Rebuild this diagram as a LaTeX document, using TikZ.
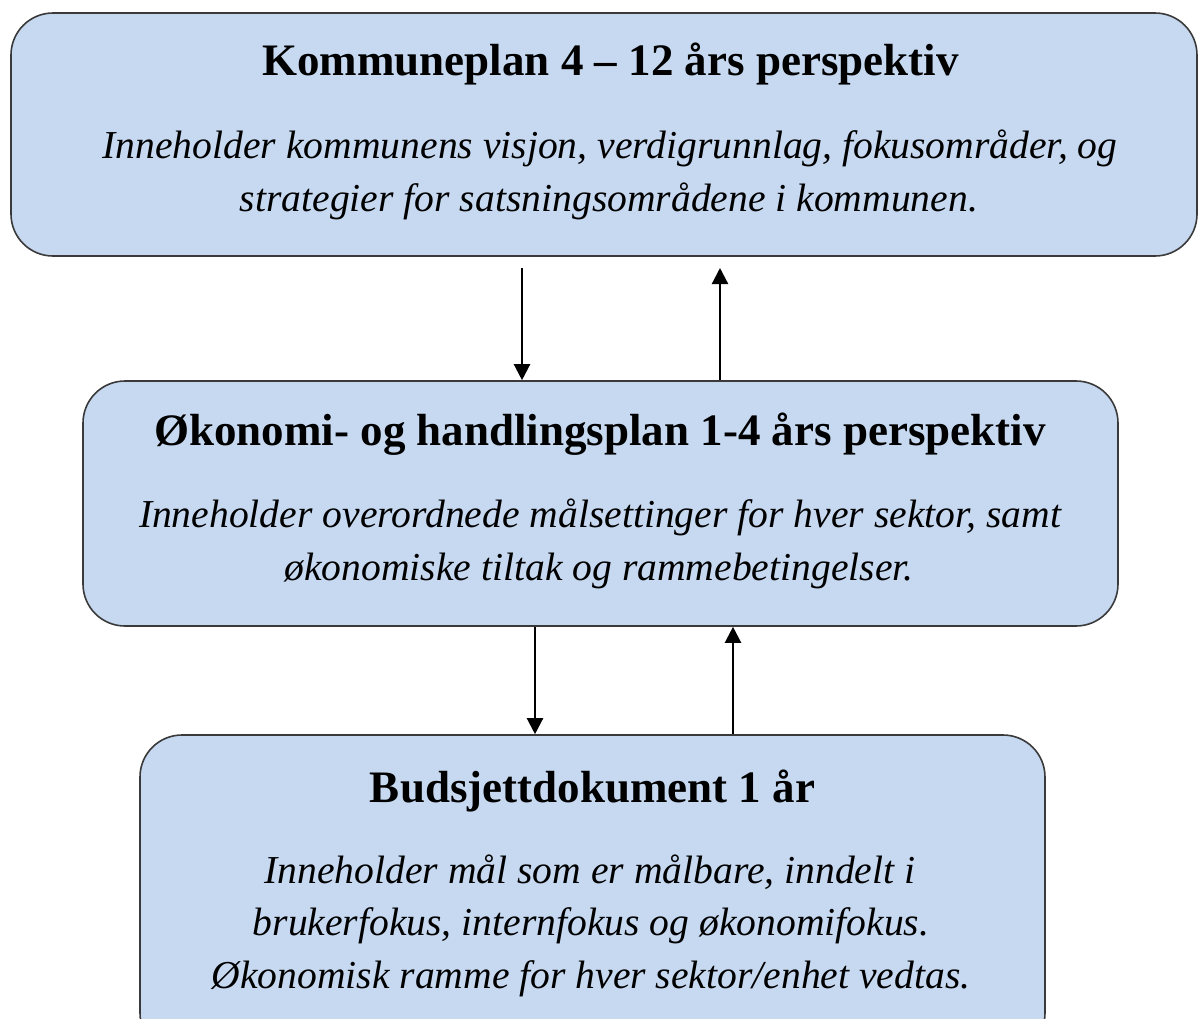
\documentclass[tikz,border=0pt]{standalone}
\usepackage{fontspec}
\setmainfont{Liberation Serif}
\usetikzlibrary{arrows.meta}
\definecolor{boxfill}{HTML}{C6D9F1}
\definecolor{boxline}{HTML}{3A3A3A}
\tikzset{
  plan/.style={draw=boxline, line width=1.6pt, fill=boxfill, rounded corners=42pt, inner sep=0pt},
  ttl/.style={anchor=base, inner sep=0pt, font=\bfseries\fontsize{45}{54}\selectfont},
  txt/.style={anchor=base, inner sep=0pt, font=\itshape\fontsize{39.6}{51}\selectfont},
  arr/.style={line width=2.2pt, -{Triangle[width=16pt,length=16pt]}}
}
\begin{document}
\begin{tikzpicture}[x=1pt,y=-1pt]
\useasboundingbox (0,0) rectangle (1200,1018);
\begin{scope}
\clip (0,0) rectangle (1200,1018);
\node[plan, minimum width=1186pt, minimum height=243pt] (k) at (604,134.5) {};
\node[plan, minimum width=1035pt, minimum height=245pt] (o) at (600.5,503.5) {};
\node[plan, minimum width=905pt, minimum height=320pt] (b) at (592.5,895) {};
\end{scope}
\node[ttl] (kt) at (610.5,75) {Kommuneplan 4 – 12 års perspektiv};
\node[txt] (k1) at (610,158) {Inneholder kommunens visjon, verdigrunnlag, fokusområder, og};
\node[txt] (k2) at (609,211) {strategier for satsningsområdene i kommunen.};
\node[ttl] (ot) at (600,445) {Økonomi- og handlingsplan 1-4 års perspektiv};
\node[txt] (o1) at (600,527) {Inneholder overordnede målsettinger for hver sektor, samt};
\node[txt] (o2) at (599,580) {økonomiske tiltak og rammebetingelser.};
\node[ttl] (bt) at (592.5,802) {Budsjettdokument 1 år};
\node[txt] (b1) at (590,883) {Inneholder mål som er målbare, inndelt i};
\node[txt] (b2) at (591,935.5) {brukerfokus, internfokus og økonomifokus.};
\node[txt] (b3) at (591,988) {Økonomisk ramme for hver sektor/enhet vedtas.};
\coordinate (d1) at (522,268);
\coordinate (u1) at (720,268);
\draw[arr] (d1) -- (d1 |- o.north);
\draw[arr] (u1 |- o.north) -- (u1);
\draw[arr] (o.south -| 535,0) -- (b.north -| 535,0);
\draw[arr] (b.north -| 733,0) -- (o.south -| 733,0);
\end{tikzpicture}
\end{document}
